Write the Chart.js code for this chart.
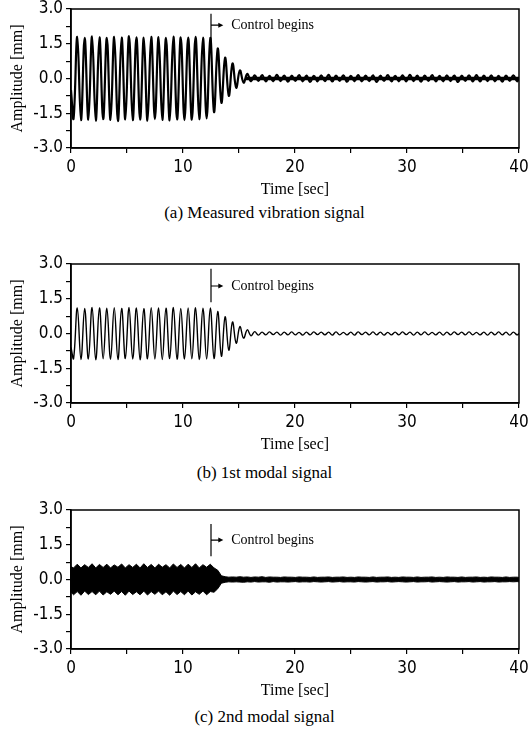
<!DOCTYPE html>
<html>
<head>
<meta charset="utf-8">
<script src="https://cdn.jsdelivr.net/npm/chart.js@4.4.1/dist/chart.umd.min.js"></script>
<style>
body { margin: 0; width: 529px; height: 740px; background: #fff; position: relative; overflow: hidden; }
canvas { position: absolute; left: 0; }
.cap { position: absolute; left: 0; width: 529px; text-align: center; font-family: 'Liberation Serif', 'Times New Roman', serif; font-size: 17px; line-height: 20px; color: #000; }
</style>
</head>
<body>
<canvas id="chartA" width="529" height="200" style="top:0px"></canvas>
<div class="cap" style="top:203px">(a) Measured vibration signal</div>
<canvas id="chartB" width="529" height="200" style="top:255px"></canvas>
<div class="cap" style="top:463px">(b) 1st modal signal</div>
<canvas id="chartC" width="529" height="200" style="top:501px"></canvas>
<div class="cap" style="top:707px">(c) 2nd modal signal</div>
<script>
// times of the read peaks/troughs (sec)
const peakTime = [
    0, 0.23, 0.56, 0.89, 1.22, 1.55, 1.88, 2.21, 2.54, 2.87,
    3.20, 3.53, 3.86, 4.19, 4.52, 4.85, 5.18, 5.51, 5.84, 6.17,
    6.50, 6.83, 7.16, 7.49, 7.82, 8.15, 8.48, 8.81, 9.14, 9.47,
    9.80, 10.13, 10.46, 10.79, 11.12, 11.45, 11.78, 12.11, 12.44, 12.77,
    13.10, 13.43, 13.76, 14.09, 14.42, 14.75, 15.08, 15.41, 15.74, 16.07,
    16.40, 16.73, 17.06, 17.39, 17.72, 18.05, 18.38, 18.71, 19.04, 19.37,
    19.70, 20.03, 20.36, 20.69, 21.02, 21.35, 21.68, 22.01, 22.34, 22.67,
    23.00, 23.33, 23.66, 23.99, 24.32, 24.65, 24.98, 25.31, 25.64, 25.97,
    26.30, 26.63, 26.96, 27.29, 27.62, 27.95, 28.28, 28.61, 28.94, 29.27,
    29.60, 29.93, 30.26, 30.59, 30.92, 31.25, 31.58, 31.91, 32.24, 32.57,
    32.90, 33.23, 33.56, 33.89, 34.22, 34.55, 34.88, 35.21, 35.54, 35.87,
    36.20, 36.53, 36.86, 37.19, 37.52, 37.85, 38.18, 38.51, 38.84, 39.17,
    39.50, 39.83, 40
];

// (a) measured vibration [mm]
const measured = [
    -0.50, -1.72, 1.80, -1.80, 1.76, -1.78, 1.82, -1.82, 1.78, -1.76,
    1.75, -1.79, 1.80, -1.84, 1.77, -1.77, 1.83, -1.80, 1.78, -1.78,
    1.76, -1.82, 1.80, -1.75, 1.79, -1.79, 1.75, -1.81, 1.81, -1.77,
    1.78, -1.80, 1.77, -1.78, 1.80, -1.76, 1.76, -1.72, 1.75, -1.45,
    1.30, -1.05, 0.90, -0.75, 0.65, -0.40, 0.35, -0.18, 0.20, -0.12,
    0.14, -0.10, 0.15, -0.13, 0.11, -0.12, 0.16, -0.11, 0.13, -0.14,
    0.12, -0.10, 0.15, -0.12, 0.13, -0.15, 0.11, -0.12, 0.14, -0.11,
    0.16, -0.13, 0.12, -0.10, 0.14, -0.14, 0.11, -0.12, 0.15, -0.12,
    0.13, -0.11, 0.14, -0.15, 0.12, -0.10, 0.15, -0.13, 0.11, -0.12,
    0.14, -0.12, 0.16, -0.11, 0.12, -0.14, 0.13, -0.10, 0.15, -0.13,
    0.11, -0.12, 0.14, -0.11, 0.13, -0.15, 0.12, -0.10, 0.14, -0.12,
    0.15, -0.13, 0.12, -0.11, 0.14, -0.12, 0.11, -0.14, 0.13, -0.10,
    0.14, -0.12, 0.05
];

// (b) 1st modal signal [mm]
const mode1 = [
    -0.60, -1.08, 1.10, -1.12, 1.08, -1.10, 1.12, -1.13, 1.10, -1.09,
    1.09, -1.11, 1.11, -1.12, 1.08, -1.08, 1.12, -1.10, 1.10, -1.13,
    1.07, -1.09, 1.11, -1.10, 1.10, -1.12, 1.09, -1.08, 1.12, -1.11,
    1.08, -1.10, 1.10, -1.09, 1.11, -1.12, 1.09, -1.10, 1.10, -1.08,
    0.95, -0.98, 0.72, -0.72, 0.50, -0.42, 0.30, -0.20, 0.16, -0.10,
    0.08, -0.07, 0.06, -0.06, 0.07, -0.05, 0.06, -0.07, 0.06, -0.06,
    0.07, -0.06, 0.05, -0.07, 0.06, -0.06, 0.07, -0.05, 0.06, -0.06,
    0.06, -0.07, 0.07, -0.06, 0.05, -0.06, 0.06, -0.07, 0.07, -0.05,
    0.06, -0.06, 0.07, -0.06, 0.06, -0.07, 0.05, -0.06, 0.06, -0.06,
    0.07, -0.05, 0.06, -0.07, 0.06, -0.06, 0.07, -0.06, 0.05, -0.06,
    0.06, -0.07, 0.06, -0.06, 0.07, -0.05, 0.06, -0.06, 0.07, -0.06,
    0.05, -0.06, 0.06, -0.07, 0.06, -0.06, 0.07, -0.06, 0.06, -0.07,
    0.06, -0.06, 0.00
];

// (c) 2nd modal signal, upper / lower edge of the dense band [mm]
const mode2Upper = [
    0.55, 0.50, 0.66, 0.50, 0.64, 0.52, 0.68, 0.50, 0.65, 0.52,
    0.66, 0.50, 0.63, 0.53, 0.67, 0.50, 0.64, 0.52, 0.66, 0.50,
    0.68, 0.52, 0.65, 0.50, 0.66, 0.53, 0.64, 0.50, 0.67, 0.52,
    0.65, 0.50, 0.66, 0.52, 0.68, 0.50, 0.64, 0.53, 0.66, 0.50,
    0.40, 0.16, 0.12, 0.10, 0.11, 0.10, 0.12, 0.10, 0.11, 0.09,
    0.11, 0.10, 0.12, 0.09, 0.11, 0.10, 0.10, 0.09, 0.11, 0.10,
    0.10, 0.09, 0.11, 0.10, 0.10, 0.09, 0.11, 0.09, 0.10, 0.10,
    0.11, 0.09, 0.10, 0.10, 0.11, 0.09, 0.10, 0.09, 0.11, 0.10,
    0.10, 0.09, 0.11, 0.09, 0.10, 0.10, 0.11, 0.09, 0.10, 0.09,
    0.11, 0.10, 0.10, 0.09, 0.11, 0.09, 0.10, 0.10, 0.11, 0.09,
    0.10, 0.09, 0.11, 0.10, 0.10, 0.09, 0.11, 0.09, 0.10, 0.10,
    0.11, 0.09, 0.10, 0.09, 0.11, 0.10, 0.10, 0.09, 0.11, 0.09,
    0.10, 0.10, 0.09
];
const mode2Lower = [
    -0.55, -0.66, -0.52, -0.68, -0.50, -0.65, -0.52, -0.66, -0.50, -0.67,
    -0.53, -0.64, -0.50, -0.66, -0.52, -0.68, -0.50, -0.65, -0.53, -0.66,
    -0.50, -0.67, -0.52, -0.64, -0.50, -0.66, -0.53, -0.68, -0.50, -0.65,
    -0.52, -0.66, -0.50, -0.67, -0.53, -0.64, -0.50, -0.66, -0.52, -0.55,
    -0.40, -0.16, -0.12, -0.10, -0.11, -0.10, -0.11, -0.12, -0.10, -0.11,
    -0.09, -0.11, -0.10, -0.10, -0.12, -0.09, -0.11, -0.10, -0.10, -0.11,
    -0.10, -0.09, -0.11, -0.10, -0.10, -0.11, -0.09, -0.10, -0.11, -0.10,
    -0.09, -0.11, -0.10, -0.09, -0.11, -0.10, -0.10, -0.11, -0.09, -0.10,
    -0.11, -0.10, -0.09, -0.11, -0.10, -0.10, -0.09, -0.11, -0.10, -0.09,
    -0.10, -0.11, -0.10, -0.09, -0.11, -0.10, -0.10, -0.09, -0.11, -0.10,
    -0.09, -0.10, -0.11, -0.10, -0.09, -0.11, -0.10, -0.10, -0.09, -0.11,
    -0.10, -0.09, -0.11, -0.10, -0.10, -0.09, -0.11, -0.10, -0.10, -0.09,
    -0.10, -0.09, -0.10
];

// (a) solid core of the ribbon after control
const ribbonTime = [15.6, 40];
const ribbonUpper = [0.08, 0.08];
const ribbonLower = [-0.08, -0.08];

const controlStart = 12.5;
const arrowEnd = 13.6;
const labelStart = 14.3;

const tickFont = { family: "'Liberation Sans Narrow', 'Arial Narrow', 'DejaVu Sans Condensed', sans-serif", size: 17 };
const titleFont = { family: "'Liberation Serif', 'Times New Roman', serif", size: 16 };

function pts(xs, ys) {
    return xs.map((x, i) => ({ x: x, y: ys[i] }));
}

const framePlugin = {
    id: "frame",
    afterDatasetsDraw(chart) {
        const a = chart.chartArea;
        const ctx = chart.ctx;
        ctx.save();
        ctx.strokeStyle = "#000";
        ctx.lineWidth = 1.5;
        ctx.strokeRect(a.left, a.top, a.right - a.left, a.bottom - a.top);
        ctx.restore();
    }
};

const controlPlugin = {
    id: "controlMark",
    afterDraw(chart, args, opts) {
        const xs = chart.scales.x, ys = chart.scales.y, ctx = chart.ctx;
        const x0 = xs.getPixelForValue(controlStart);
        const x1 = xs.getPixelForValue(arrowEnd);
        const ya = ys.getPixelForValue(opts.arrow);
        ctx.save();
        ctx.strokeStyle = "#000";
        ctx.fillStyle = "#000";
        ctx.lineWidth = 1.2;
        ctx.beginPath();
        ctx.moveTo(x0, ys.getPixelForValue(opts.top));
        ctx.lineTo(x0, ys.getPixelForValue(opts.bottom));
        ctx.moveTo(x0, ya);
        ctx.lineTo(x1 - 3, ya);
        ctx.stroke();
        ctx.beginPath();
        ctx.moveTo(x1, ya);
        ctx.lineTo(x1 - 5, ya - 2.5);
        ctx.lineTo(x1 - 5, ya + 2.5);
        ctx.closePath();
        ctx.fill();
        ctx.font = "14px 'Liberation Serif', 'Times New Roman', serif";
        ctx.textBaseline = "middle";
        ctx.fillText("Control begins", xs.getPixelForValue(labelStart), ya);
        ctx.restore();
    }
};

function makeChart(id, datasets, mark) {
    const ctx = document.getElementById(id).getContext("2d");
    return new Chart(ctx, {
        type: "line",
        data: { datasets: datasets },
        options: {
            responsive: false,
            animation: false,
            devicePixelRatio: 1,
            layout: { padding: { left: 0, right: 10, top: 9, bottom: 0 } },
            elements: { point: { radius: 0 } },
            plugins: {
                legend: { display: false },
                tooltip: { enabled: false },
                controlMark: mark
            },
            scales: {
                x: {
                    type: "linear",
                    min: 0,
                    max: 40,
                    afterFit(scale) {
                        scale.height = 52;
                        scale.paddingLeft = 0;
                        scale.paddingRight = 0;
                    },
                    ticks: {
                        stepSize: 5,
                        autoSkip: false,
                        maxRotation: 0,
                        color: "#000",
                        font: tickFont,
                        padding: 4,
                        callback: v => (v % 10 === 0 ? String(v) : "")
                    },
                    grid: { drawOnChartArea: false, tickLength: 5, color: "#000", lineWidth: 1.2 },
                    border: { color: "#000", width: 1.5 },
                    title: { display: true, text: "Time [sec]", color: "#000", font: titleFont, padding: { top: 0, bottom: 1 } }
                },
                y: {
                    min: -3,
                    max: 3,
                    afterFit(scale) {
                        scale.width = 71;
                        scale.paddingTop = 0;
                        scale.paddingBottom = 0;
                    },
                    ticks: {
                        stepSize: 0.75,
                        autoSkip: false,
                        color: "#000",
                        font: tickFont,
                        padding: 3,
                        callback: v => (Math.abs(v / 1.5 - Math.round(v / 1.5)) < 1e-6 ? v.toFixed(1) : "")
                    },
                    grid: { drawOnChartArea: false, tickLength: 5, color: "#000", lineWidth: 1.2 },
                    border: { color: "#000", width: 1.5 },
                    title: { display: true, text: "Amplitude [mm]", color: "#000", font: titleFont, padding: { top: 8, bottom: 8 } }
                }
            }
        },
        plugins: [framePlugin, controlPlugin]
    });
}

makeChart("chartA", [
    { data: pts(peakTime, measured), borderColor: "#000", borderWidth: 2.2, tension: 0.4, fill: false },
    { data: pts(ribbonTime, ribbonUpper), borderWidth: 0, borderColor: "#000", backgroundColor: "#000", fill: "+1" },
    { data: pts(ribbonTime, ribbonLower), borderWidth: 0, borderColor: "#000", fill: false }
], { top: 2.8, bottom: 1.25, arrow: 2.3 });

makeChart("chartB", [
    { data: pts(peakTime, mode1), borderColor: "#000", borderWidth: 1.4, tension: 0.4, fill: false }
], { top: 2.8, bottom: 1.35, arrow: 2.05 });

makeChart("chartC", [
    { data: pts(peakTime, mode2Upper), borderColor: "#000", borderWidth: 1, backgroundColor: "#000", tension: 0, fill: "+1" },
    { data: pts(peakTime, mode2Lower), borderColor: "#000", borderWidth: 1, tension: 0, fill: false }
], { top: 2.4, bottom: 1.0, arrow: 1.7 });
</script>
</body>
</html>
